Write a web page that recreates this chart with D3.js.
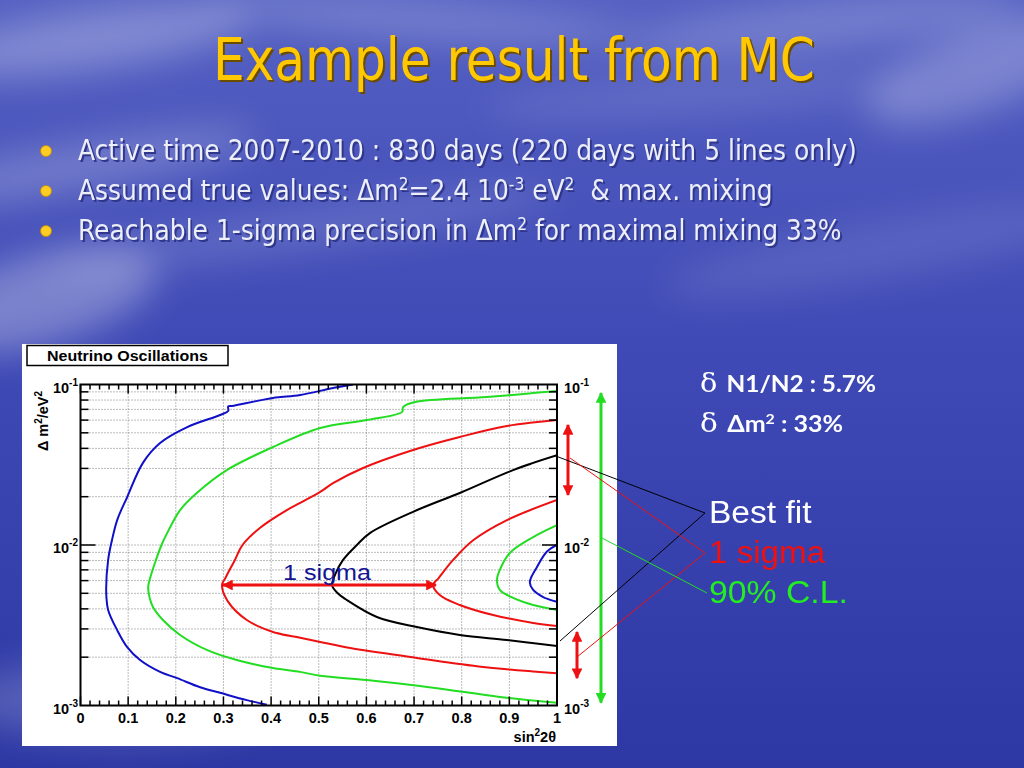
<!DOCTYPE html>
<html>
<head>
<meta charset="utf-8">
<script src="https://cdn.jsdelivr.net/npm/d3@7/dist/d3.min.js"></script>
<style>
  body { margin: 0; overflow: hidden; }
  svg { display: block; }
</style>
</head>
<body>
<svg id="slide" width="1024" height="768"></svg>
<script>
// ---- data (sin^2 2theta, delta m^2 in eV^2) ----
const xTicks = [0, 0.1, 0.2, 0.3, 0.4, 0.5, 0.6, 0.7, 0.8, 0.9, 1]
const xTickLabels = ["0", "0.1", "0.2", "0.3", "0.4", "0.5", "0.6", "0.7", "0.8", "0.9", "1"]
const yDecades = [1e-3, 1e-2, 1e-1]
const yDecadeExp = ["-3", "-2", "-1"]

const blueOuter = [[0.572,0.1],[0.530,0.0951],[0.461,0.0860],[0.404,0.0824],[0.318,0.0735],[0.310,0.0730],
  [0.310,0.0684],[0.293,0.0646],[0.224,0.0543],[0.167,0.0432],[0.131,0.0325],[0.098,0.0199],[0.077,0.0143],
  [0.066,0.0107],[0.058,0.00807],[0.054,0.00502],[0.058,0.00394],[0.077,0.00295],[0.098,0.00231],
  [0.125,0.00192],[0.167,0.00162],[0.203,0.00148],[0.251,0.00130],[0.293,0.00120],[0.349,0.00108],[0.391,0.00101]]
const greenOuter = [[1.0,0.0911],[0.853,0.0836],[0.702,0.0778],[0.677,0.0724],[0.675,0.0675],[0.601,0.0601],
  [0.503,0.0536],[0.404,0.0408],[0.307,0.0293],[0.244,0.0211],[0.209,0.0165],[0.182,0.0119],[0.170,0.0100],
  [0.156,0.0077],[0.146,0.0062],[0.142,0.00547],[0.145,0.0047],[0.152,0.00411],[0.173,0.00341],[0.209,0.00275],
  [0.265,0.00222],[0.328,0.00192],[0.404,0.00171],[0.461,0.00162],[0.503,0.00153],[0.601,0.00144],[0.740,0.00129],
  [0.880,0.00113],[1.0,0.00104]]
const redOuter = [[1.0,0.0601],[0.895,0.0551],[0.796,0.0471],[0.698,0.0391],[0.593,0.0302],[0.530,0.0243],
  [0.503,0.0214],[0.461,0.0183],[0.433,0.0165],[0.377,0.0128],[0.340,0.0100],[0.324,0.00807],
  [0.305,0.00630],[0.297,0.00563],[0.310,0.00442],[0.349,0.00341],[0.404,0.00287],[0.461,0.00264],
  [0.503,0.00249],[0.566,0.00228],[0.706,0.00198],[0.845,0.00174],[1.0,0.00159]]
const redInner = [[1.0,0.0191],[0.895,0.0143],[0.824,0.0107],[0.782,0.00807],[0.752,0.00625],[0.740,0.00563],
  [0.754,0.00488],[0.796,0.00423],[0.866,0.00366],[0.950,0.00327],[1.0,0.00313]]
const bestFit = [[1.0,0.0362],[0.908,0.0293],[0.796,0.0211],[0.698,0.0161],[0.608,0.0119],[0.580,0.0100],
  [0.551,0.00807],[0.535,0.0066],[0.528,0.00560],[0.540,0.0050],[0.559,0.00454],[0.622,0.00356],
  [0.706,0.00308],[0.796,0.00275],[0.895,0.00256],[1.0,0.00235]]
const greenInner = [[1.0,0.0133],[0.950,0.0112],[0.901,0.00892],[0.880,0.00700],
  [0.874,0.00605],[0.880,0.00525],[0.908,0.00468],[0.950,0.00423],[1.0,0.00394]]
const blueInner = [[1.0,0.0100],[0.979,0.0091],[0.958,0.00730],[0.943,0.00588],[0.950,0.00525],
  [0.971,0.00474],[1.0,0.00442]]

const contours = [
  {pts: blueOuter, color: "#1010c8"},
  {pts: greenOuter, color: "#22dd22"},
  {pts: redOuter, color: "#ee1111"},
  {pts: redInner, color: "#ee1111"},
  {pts: bestFit, color: "#000000"},
  {pts: greenInner, color: "#22dd22"},
  {pts: blueInner, color: "#1010c8"}
]

// 1 sigma range at the best fit mass, and the ranges marked on the right
const sigmaRangeX = [0.297, 0.748]
const sigmaRangeDm = 0.00563
const upperSigmaDm = [0.056, 0.0205]
const lowerSigmaDm = [0.00287, 0.00148]
const clRangeDm = [0.0885, 0.00104]

const bullets = [
  [{t: "Active time 2007-2010 : 830 days (220 days with 5 lines only)"}],
  [{t: "Assumed true values: \u0394m"}, {t: "2", sup: true}, {t: "=2.4 10"}, {t: "-3", sup: true},
   {t: " eV"}, {t: "2", sup: true}, {t: "\u00a0 & max. mixing"}],
  [{t: "Reachable 1-sigma precision in \u0394m"}, {t: "2", sup: true}, {t: " for maximal mixing 33%"}]
]
const bulletWidths = [779, 695, 764]

const svg = d3.select("#slide")
const defs = svg.append("defs")

// ---- background ----
const bg = defs.append("linearGradient").attr("id", "bg").attr("x1", 0).attr("y1", 0).attr("x2", 0).attr("y2", 1)
bg.append("stop").attr("offset", "0%").attr("stop-color", "#5460c2")
bg.append("stop").attr("offset", "45%").attr("stop-color", "#3f4ab6")
bg.append("stop").attr("offset", "100%").attr("stop-color", "#2d38a4")
defs.append("filter").attr("id", "blur").attr("x", "-50%").attr("y", "-50%").attr("width", "200%").attr("height", "200%")
  .append("feGaussianBlur").attr("stdDeviation", 18)
svg.append("rect").attr("width", 1024).attr("height", 768).attr("fill", "url(#bg)")

const clouds = svg.append("g").attr("filter", "url(#blur)")
const cloudList = [
  [90, 40, 160, 30, -8, 0.28], [420, 20, 220, 18, 4, 0.22], [820, 25, 200, 22, -6, 0.22],
  [980, 70, 120, 40, -20, 0.25], [60, 170, 200, 25, -10, 0.22], [300, 230, 260, 20, -8, 0.15],
  [40, 300, 120, 45, -15, 0.30], [700, 95, 220, 16, -4, 0.14], [120, 700, 160, 40, 0, 0.18],
  [880, 250, 220, 30, -10, 0.10]
]
cloudList.forEach(c => {
  clouds.append("ellipse").attr("cx", c[0]).attr("cy", c[1]).attr("rx", c[2]).attr("ry", c[3])
    .attr("transform", `rotate(${c[4]},${c[0]},${c[1]})`)
    .attr("fill", "#ffffff").attr("opacity", c[5])
})

// squeeze a text to a measured width
function fitWidth(sel, w) {
  const bb = sel.node().getBBox()
  const x0 = +sel.attr("x")
  sel.attr("transform", `translate(${x0},0) scale(${w / bb.width},1) translate(${-x0},0)`)
}

// ---- title ----
const titleFont = "'DejaVu Sans Condensed', 'DejaVu Sans', sans-serif"
;[["#6a4c00", 2], ["#ffc800", 0]].forEach(([col, off]) => {
  const t = svg.append("text").attr("x", 213 + off).attr("y", 80 + off)
    .attr("font-family", titleFont).attr("font-size", 59).attr("fill", col)
    .text("Example result from MC")
  fitWidth(t, 602)
})

// ---- bullets ----
bullets.forEach((parts, i) => {
  const yb = 160 + i * 40
  svg.append("circle").attr("cx", 46).attr("cy", yb - 9).attr("r", 5.5).attr("fill", "#ffcc22")
    .attr("stroke", "#c08a00").attr("stroke-width", 0.8)
  ;[["#30368a", 2], ["#eceef8", 0]].forEach(([col, off]) => {
    const t = svg.append("text").attr("x", 78 + off).attr("y", yb + off)
      .attr("font-family", titleFont).attr("font-size", 27.5).attr("fill", col)
    parts.forEach(p => {
      const s = t.append("tspan").text(p.t)
      if (p.sup) s.attr("font-size", 17).attr("baseline-shift", "super")
    })
    fitWidth(t, bulletWidths[i])
  })
})

// ---- plot panel ----
const labFont = "Arial, 'Liberation Sans', sans-serif"
svg.append("rect").attr("x", 22).attr("y", 344).attr("width", 595).attr("height", 402).attr("fill", "#ffffff")
svg.append("rect").attr("x", 27).attr("y", 345.5).attr("width", 201).attr("height", 20)
  .attr("fill", "#ffffff").attr("stroke", "#000").attr("stroke-width", 1.5)
const boxTitle = svg.append("text").attr("x", 47).attr("y", 361.5)
  .attr("font-family", labFont).attr("font-weight", "bold").attr("font-size", 15.5)
  .text("Neutrino Oscillations")
fitWidth(boxTitle, 161)

const sinX = d3.scaleLinear().domain([0, 1]).range([80.5, 557])
const dmY = d3.scaleLog().domain([1e-3, 1e-1]).range([705.5, 384.5])

const plot = svg.append("g")
const minorY = []
;[1e-3, 1e-2].forEach(d => { for (let k = 2; k <= 9; k++) minorY.push(d * k) })

// grid
plot.append("g").selectAll("line").data(xTicks.slice(1, -1)).join("line")
  .attr("x1", d => sinX(d)).attr("x2", d => sinX(d)).attr("y1", dmY(1e-1)).attr("y2", dmY(1e-3))
  .attr("stroke", "#777").attr("stroke-width", 1).attr("stroke-dasharray", "1,2")
plot.append("g").selectAll("line").data(minorY.concat([1e-2])).join("line")
  .attr("x1", sinX(0)).attr("x2", sinX(1)).attr("y1", d => dmY(d)).attr("y2", d => dmY(d))
  .attr("stroke", "#777").attr("stroke-width", 1).attr("stroke-dasharray", "1,2")

// contours
const line = d3.line().x(d => sinX(d[0])).y(d => dmY(d[1])).curve(d3.curveCatmullRom.alpha(0.5))
const cg = svg.append("defs").append("clipPath").attr("id", "frame")
cg.append("rect").attr("x", sinX(0)).attr("y", dmY(1e-1)).attr("width", sinX(1) - sinX(0)).attr("height", dmY(1e-3) - dmY(1e-1))
plot.append("g").attr("clip-path", "url(#frame)").selectAll("path").data(contours).join("path")
  .attr("d", d => line(d.pts)).attr("fill", "none").attr("stroke", d => d.color).attr("stroke-width", 2)

// frame and ticks
plot.append("rect").attr("x", sinX(0)).attr("y", dmY(1e-1)).attr("width", sinX(1) - sinX(0))
  .attr("height", dmY(1e-3) - dmY(1e-1)).attr("fill", "none").attr("stroke", "#000").attr("stroke-width", 2)

const minorX = d3.range(0, 51).map(i => i / 50)
const tickG = plot.append("g").attr("stroke", "#000").attr("stroke-width", 1.5)
minorX.forEach((v, i) => {
  const len = i % 5 === 0 ? 9 : 5
  tickG.append("line").attr("x1", sinX(v)).attr("x2", sinX(v)).attr("y1", dmY(1e-3)).attr("y2", dmY(1e-3) - len)
  tickG.append("line").attr("x1", sinX(v)).attr("x2", sinX(v)).attr("y1", dmY(1e-1)).attr("y2", dmY(1e-1) + len)
})
minorY.concat([1e-2]).forEach(v => {
  const len = v === 1e-2 ? 15 : 8
  tickG.append("line").attr("x1", sinX(0)).attr("x2", sinX(0) + len).attr("y1", dmY(v)).attr("y2", dmY(v))
  tickG.append("line").attr("x1", sinX(1)).attr("x2", sinX(1) - len).attr("y1", dmY(v)).attr("y2", dmY(v))
})

plot.append("g").selectAll("text").data(xTicks).join("text")
  .attr("x", d => sinX(d)).attr("y", 723).attr("text-anchor", "middle")
  .attr("font-family", labFont).attr("font-weight", "bold").attr("font-size", 14.5)
  .text((d, i) => xTickLabels[i])

function decadeLabel(g, x, y, exp, anchor) {
  const t = g.append("text").attr("x", x).attr("y", y).attr("text-anchor", anchor)
    .attr("font-family", labFont).attr("font-weight", "bold").attr("font-size", 14.5)
  t.append("tspan").text("10")
  t.append("tspan").attr("dy", -7).attr("font-size", 10).text(exp)
}
yDecades.forEach((d, i) => {
  decadeLabel(plot, 78, dmY(d) + 8, yDecadeExp[i], "end")
  decadeLabel(plot, 564, dmY(d) + 8, yDecadeExp[i], "start")
})

const xt = plot.append("text").attr("x", 556).attr("y", 742).attr("text-anchor", "end")
  .attr("font-family", labFont).attr("font-weight", "bold").attr("font-size", 14.5)
xt.append("tspan").text("sin")
xt.append("tspan").attr("dy", -6).attr("font-size", 10).text("2")
xt.append("tspan").attr("dy", 6).text("2\u03b8")

const yt = plot.append("text").attr("transform", "translate(48,421) rotate(-90)").attr("text-anchor", "middle")
  .attr("font-family", labFont).attr("font-weight", "bold").attr("font-size", 14.5)
yt.append("tspan").text("\u0394 m")
yt.append("tspan").attr("dy", -6).attr("font-size", 10).text("2")
yt.append("tspan").attr("dy", 6).text("/eV")
yt.append("tspan").attr("dy", -6).attr("font-size", 10).text("2")

// ---- arrows and leader lines ----
function arrowHead(id, color) {
  defs.append("marker").attr("id", id).attr("viewBox", "0 0 10 10").attr("refX", 9).attr("refY", 5)
    .attr("markerWidth", 3.6).attr("markerHeight", 3.6).attr("orient", "auto-start-reverse")
    .append("path").attr("d", "M0,0 L10,5 L0,10 z").attr("fill", color)
}
arrowHead("ar", "#ee1111")
arrowHead("ag", "#22dd22")

const ann = svg.append("g")
ann.append("line").attr("x1", sinX(sigmaRangeX[0]) + 1).attr("x2", sinX(sigmaRangeX[1]) - 1)
  .attr("y1", dmY(sigmaRangeDm)).attr("y2", dmY(sigmaRangeDm))
  .attr("stroke", "#ee1111").attr("stroke-width", 3).attr("marker-start", "url(#ar)").attr("marker-end", "url(#ar)")
const sigTxt = ann.append("text").attr("x", 283).attr("y", 580)
  .attr("font-family", labFont).attr("font-size", 22).attr("fill", "#141490").text("1 sigma")
fitWidth(sigTxt, 89)

ann.append("line").attr("x1", 568).attr("x2", 568).attr("y1", dmY(upperSigmaDm[0])).attr("y2", dmY(upperSigmaDm[1]))
  .attr("stroke", "#ee1111").attr("stroke-width", 3).attr("marker-start", "url(#ar)").attr("marker-end", "url(#ar)")
ann.append("line").attr("x1", 577).attr("x2", 577).attr("y1", dmY(lowerSigmaDm[0])).attr("y2", dmY(lowerSigmaDm[1]))
  .attr("stroke", "#ee1111").attr("stroke-width", 3).attr("marker-start", "url(#ar)").attr("marker-end", "url(#ar)")
ann.append("line").attr("x1", 601).attr("x2", 601).attr("y1", dmY(clRangeDm[0])).attr("y2", dmY(clRangeDm[1]))
  .attr("stroke", "#22dd22").attr("stroke-width", 3).attr("marker-start", "url(#ag)").attr("marker-end", "url(#ag)")

ann.append("polyline").attr("points", `${sinX(1) - 3},${dmY(bestFit[0][1])} 705,513 560,641`)
  .attr("fill", "none").attr("stroke", "#000").attr("stroke-width", 1)
ann.append("polyline").attr("points", `570,458 705,553 577,657`)
  .attr("fill", "none").attr("stroke", "#ee1111").attr("stroke-width", 1)
ann.append("polyline").attr("points", `602,538 707,593`)
  .attr("fill", "none").attr("stroke", "#22dd22").attr("stroke-width", 1)

// ---- legend texts ----
const legTexts = [["Best fit", "#ffffff", 523, 103], ["1 sigma", "#ee1111", 563, 117], ["90% C.L.", "#22ee22", 603, 139]]
legTexts.forEach(([t, c, y, w]) => {
  const lt = svg.append("text").attr("x", 709).attr("y", y).attr("font-family", labFont).attr("font-size", 31)
    .attr("fill", c).text(t)
  fitWidth(lt, w)
})

const deltaLines = [
  [{t: "\u03b4 ", serif: true}, {t: "N1/N2 : 5.7%"}],
  [{t: "\u03b4 ", serif: true}, {t: "\u0394m"}, {t: "2", sup: true}, {t: " : 33%"}]
]
const deltaWidths = [176, 143]
deltaLines.forEach((parts, i) => {
  const t = svg.append("text").attr("x", 700).attr("y", 392 + i * 40)
    .attr("font-family", "Lato, 'Open Sans', sans-serif").attr("font-weight", "bold").attr("font-size", 22)
    .attr("fill", "#ffffff")
  parts.forEach(p => {
    const s = t.append("tspan").text(p.t)
    if (p.serif) s.attr("font-family", "'DejaVu Serif', serif").attr("font-weight", "normal").attr("font-size", 26)
    if (p.sup) s.attr("font-size", 14).attr("baseline-shift", "super")
  })
  fitWidth(t, deltaWidths[i])
})
</script>
</body>
</html>
